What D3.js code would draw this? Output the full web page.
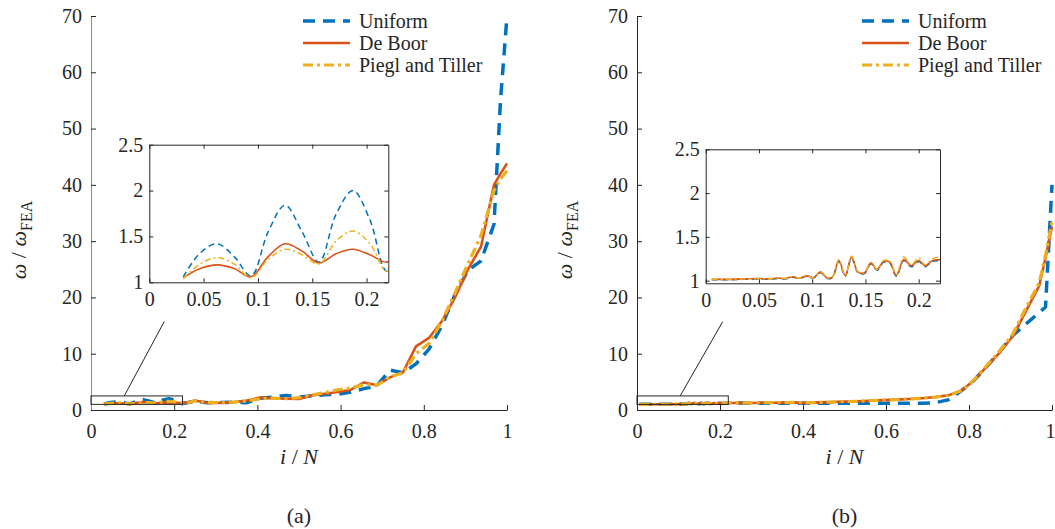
<!DOCTYPE html>
<html>
<head>
<meta charset="utf-8">
<script src="https://cdn.jsdelivr.net/npm/d3@7"></script>
<style>
  body { margin: 0; background: #ffffff; }
  text { font-family: "Liberation Serif", "Times New Roman", serif; fill: #262626; }
</style>
</head>
<body>
<svg id="fig" width="1055" height="529"></svg>
<script>
// ---- series definitions ----
const seriesNames = ["Uniform", "De Boor", "Piegl and Tiller"];
const seriesColors = ["#0072BD", "#D95319", "#EDB120"];

// ---- panel (a): normalised frequency ratio vs mode index ----
const aX = [0.03125, 0.046875, 0.0625, 0.078125, 0.09375, 0.109375, 0.125, 0.140625,
  0.15625, 0.171875, 0.1875, 0.203125, 0.21875, 0.234375, 0.25, 0.28125, 0.3125,
  0.34375, 0.375, 0.40625, 0.4375, 0.46875, 0.5, 0.53125, 0.5625, 0.59375, 0.625,
  0.65625, 0.6875, 0.71875, 0.75, 0.78125, 0.8125, 0.84375, 0.875, 0.90625, 0.9375,
  0.96875, 0.984375, 1.0];
const aUniform = [1.06, 1.32, 1.42, 1.28, 1.07, 1.55, 1.84, 1.55, 1.22, 1.74, 2.00, 1.68,
  1.12, 1.35, 1.5, 1.3, 1.35, 1.4, 1.3, 2.1, 2.3, 2.6, 2.3, 2.5, 2.7, 2.8, 3.2, 3.8,
  4.3, 7.1, 6.6, 8.2, 10.8, 15.0, 20.5, 24.8, 26.5, 33.0, 55.0, 70.0];
const aDeBoor = [1.05, 1.15, 1.19, 1.15, 1.06, 1.28, 1.42, 1.34, 1.21, 1.31, 1.36, 1.30,
  1.22, 1.4, 1.7, 1.25, 1.3, 1.4, 1.7, 2.2, 2.1, 2.0, 1.95, 2.6, 2.9, 3.2, 3.6, 4.9,
  4.4, 5.8, 6.7, 11.3, 12.8, 15.8, 20.0, 25.0, 29.0, 40.0, 42.0, 43.8];
const aPiegl = [1.04, 1.20, 1.27, 1.20, 1.05, 1.25, 1.36, 1.30, 1.20, 1.45, 1.56, 1.42,
  1.12, 1.3, 1.6, 1.3, 1.3, 1.4, 1.6, 2.0, 2.1, 2.0, 2.2, 2.7, 3.1, 3.6, 3.9, 4.5,
  4.4, 5.9, 6.6, 10.0, 11.8, 15.8, 20.8, 26.0, 31.0, 39.0, 41.0, 42.5];

// ---- panel (b) ----
const bX = [0.0057, 0.02, 0.035, 0.05, 0.06, 0.067, 0.075, 0.082, 0.088, 0.095, 0.101,
  0.108, 0.114, 0.119, 0.125, 0.131, 0.137, 0.143, 0.149, 0.155, 0.161, 0.167, 0.173,
  0.179, 0.186, 0.193, 0.2, 0.206, 0.213, 0.22, 0.25, 0.28125, 0.3125, 0.34375, 0.375,
  0.40625, 0.4375, 0.46875, 0.5, 0.53125, 0.5625, 0.59375, 0.625, 0.65625, 0.6875,
  0.71875, 0.75, 0.78125, 0.8125, 0.84375, 0.875, 0.90625, 0.9375, 0.96875, 0.984375, 1.0];
const bUniform = [1.01, 1.01, 1.015, 1.02, 1.015, 1.025, 1.02, 1.04, 1.025, 1.05, 1.03,
  1.09, 1.025, 1.035, 1.22, 1.05, 1.26, 1.09, 1.08, 1.19, 1.12, 1.21, 1.20, 1.05, 1.23,
  1.16, 1.22, 1.16, 1.22, 1.23, 1.25, 1.2, 1.2, 1.2, 1.2, 1.2, 1.2, 1.2, 1.2, 1.2, 1.2,
  1.2, 1.2, 1.2, 1.2, 1.3, 1.8, 3.4, 5.3, 7.8, 10.5, 13.3, 15.3, 17.3, 18.3, 40.0];
const bDeBoor = [1.015, 1.015, 1.02, 1.025, 1.02, 1.03, 1.025, 1.045, 1.03, 1.055, 1.035,
  1.10, 1.03, 1.04, 1.23, 1.06, 1.27, 1.10, 1.09, 1.20, 1.13, 1.22, 1.21, 1.06, 1.24,
  1.17, 1.23, 1.17, 1.23, 1.24, 1.25, 1.25, 1.3, 1.3, 1.35, 1.25, 1.35, 1.4, 1.5, 1.55,
  1.65, 1.75, 1.85, 1.95, 2.1, 2.3, 2.6, 3.4, 5.3, 7.8, 10.3, 13.2, 17.6, 22.0, 27.0, 32.6];
const bPiegl = [1.015, 1.015, 1.02, 1.025, 1.02, 1.03, 1.025, 1.045, 1.03, 1.06, 1.035,
  1.10, 1.03, 1.045, 1.24, 1.06, 1.28, 1.10, 1.09, 1.21, 1.13, 1.23, 1.22, 1.07, 1.27,
  1.18, 1.26, 1.18, 1.25, 1.27, 1.25, 1.25, 1.3, 1.3, 1.35, 1.25, 1.35, 1.4, 1.5, 1.55,
  1.65, 1.75, 1.85, 1.95, 2.1, 2.3, 2.6, 3.4, 5.4, 8.0, 10.6, 13.6, 18.2, 22.5, 27.5, 33.5];

// ---- ticks and labels ----
const mainXTicks = [0, 0.2, 0.4, 0.6, 0.8, 1];
const mainYTicks = [0, 10, 20, 30, 40, 50, 60, 70];
const insetXTicks = [0, 0.05, 0.1, 0.15, 0.2];
const insetYTicks = [1, 1.5, 2, 2.5];
const panelLabels = ["(a)", "(b)"];

// ---- layout of both panels ----
const panels = [
  { x: aX, ys: [aUniform, aDeBoor, aPiegl], label: panelLabels[0],
    left: 91, right: 507, top: 16, bottom: 410,
    inset: { left: 149.3, right: 388.3, top: 144.7, bottom: 282.3, yMin: 1 },
    zoomFrom: [0.08, 2.5], zoomTo: [0.176, 15.7],
    legend: { x0: 303, x1: 350, tx: 359, y: 21 } },
  { x: bX, ys: [bUniform, bDeBoor, bPiegl], label: panelLabels[1],
    left: 637, right: 1052, top: 16, bottom: 410,
    inset: { left: 705.7, right: 940, top: 149.3, bottom: 283.3, yMin: 0.97 },
    zoomFrom: [0.104, 2.5], zoomTo: [0.2065, 15.7],
    legend: { x0: 862, x1: 909, tx: 918, y: 21 } }
];

const axisColor = "#262626";
const fontSize = 20;
const mainStyles = [
  { width: 3.5, dash: "12,8" },
  { width: 2.6, dash: null },
  { width: 3.2, dash: "10,4,3,4" }
];
const insetStyles = [
  { width: 1.5, dash: "6,4" },
  { width: 1.6, dash: null },
  { width: 1.5, dash: "6,3,2,3" }
];

const svg = d3.select("#fig");

function styleAxis(g, showLabels) {
  g.selectAll("path.domain").attr("stroke", axisColor).attr("stroke-width", 1);
  g.selectAll(".tick line").attr("stroke", axisColor).attr("stroke-width", 1);
  g.selectAll(".tick text")
    .attr("font-family", "Liberation Serif, Times New Roman, serif")
    .attr("font-size", fontSize)
    .attr("fill", axisColor)
    .style("display", showLabels ? null : "none");
}

panels.forEach((p, pi) => {
  const g = svg.append("g");
  const x = d3.scaleLinear().domain([0, 1]).range([p.left, p.right]);
  const y = d3.scaleLinear().domain([0, 70]).range([p.bottom, p.top]);

  // main axes (ticks point inward)
  const gx = g.append("g").attr("transform", `translate(0,${p.bottom})`)
    .call(d3.axisBottom(x).tickValues(mainXTicks).tickFormat(d => String(d))
      .tickSizeInner(-5).tickSizeOuter(0).tickPadding(14));
  styleAxis(gx, true);
  // keep the right-most label inside the page
  if (pi === 1) gx.selectAll(".tick text").filter(d => d === 1).attr("dx", -2);
  const gy = g.append("g").attr("transform", `translate(${p.left},0)`)
    .call(d3.axisLeft(y).tickValues(mainYTicks).tickFormat(d => String(d))
      .tickSizeInner(-5).tickSizeOuter(0).tickPadding(9));
  styleAxis(gy, true);
  if (pi === 0) gy.select("path.domain").attr("stroke", "#8a8a8a");

  // main curves
  const data = p.ys.map(vals => p.x.map((xv, i) => [xv, vals[i]]));
  const line = d3.line().x(d => x(d[0])).y(d => y(d[1]));
  data.forEach((pts, si) => {
    g.append("path").datum(pts)
      .attr("d", line)
      .attr("fill", "none")
      .attr("stroke", seriesColors[si])
      .attr("stroke-width", mainStyles[si].width)
      .attr("stroke-dasharray", mainStyles[si].dash)
      .attr("stroke-linejoin", "round");
  });

  // zoom window and its leader line
  const ins = p.inset;
  g.append("rect")
    .attr("x", x(insetXTicks[0])).attr("y", y(insetYTicks[3]))
    .attr("width", x(0.22) - x(0)).attr("height", y(1) - y(2.5))
    .attr("fill", "none").attr("stroke", axisColor).attr("stroke-width", 1);
  g.append("line")
    .attr("x1", x(p.zoomFrom[0])).attr("y1", y(p.zoomFrom[1]))
    .attr("x2", x(p.zoomTo[0])).attr("y2", y(p.zoomTo[1]))
    .attr("stroke", axisColor).attr("stroke-width", 1);

  // inset
  const ix = d3.scaleLinear().domain([0, 0.22]).range([ins.left, ins.right]);
  const iy = d3.scaleLinear().domain([ins.yMin, 2.5]).range([ins.bottom, ins.top]);
  const clipId = "clip" + pi;
  g.append("clipPath").attr("id", clipId).append("rect")
    .attr("x", ins.left).attr("y", ins.top)
    .attr("width", ins.right - ins.left).attr("height", ins.bottom - ins.top);
  g.append("rect")
    .attr("x", ins.left).attr("y", ins.top)
    .attr("width", ins.right - ins.left).attr("height", ins.bottom - ins.top)
    .attr("fill", "#ffffff");
  const iline = d3.line().x(d => ix(d[0])).y(d => iy(d[1])).curve(d3.curveCatmullRom.alpha(0.5));
  const ig = g.append("g").attr("clip-path", `url(#${clipId})`);
  data.forEach((pts, si) => {
    ig.append("path").datum(pts.filter(d => d[0] <= 0.26))
      .attr("d", iline)
      .attr("fill", "none")
      .attr("stroke", seriesColors[si])
      .attr("stroke-width", insetStyles[si].width)
      .attr("stroke-dasharray", insetStyles[si].dash);
  });
  const ib = g.append("g").attr("transform", `translate(0,${ins.bottom})`)
    .call(d3.axisBottom(ix).tickValues(insetXTicks).tickFormat(d => String(d))
      .tickSizeInner(-4).tickSizeOuter(0).tickPadding(10));
  styleAxis(ib, true);
  const it = g.append("g").attr("transform", `translate(0,${ins.top})`)
    .call(d3.axisTop(ix).tickValues(insetXTicks).tickSizeInner(-4).tickSizeOuter(0));
  styleAxis(it, false);
  const il = g.append("g").attr("transform", `translate(${ins.left},0)`)
    .call(d3.axisLeft(iy).tickValues(insetYTicks).tickFormat(d => String(d))
      .tickSizeInner(-4).tickSizeOuter(0).tickPadding(6));
  styleAxis(il, true);
  const ir = g.append("g").attr("transform", `translate(${ins.right},0)`)
    .call(d3.axisRight(iy).tickValues(insetYTicks).tickSizeInner(-4).tickSizeOuter(0));
  styleAxis(ir, false);

  // legend
  const lg = p.legend;
  seriesNames.forEach((name, si) => {
    const ly = lg.y + si * 22;
    g.append("line")
      .attr("x1", lg.x0).attr("x2", lg.x1).attr("y1", ly).attr("y2", ly)
      .attr("stroke", seriesColors[si])
      .attr("stroke-width", mainStyles[si].width)
      .attr("stroke-dasharray", mainStyles[si].dash);
    g.append("text")
      .attr("x", lg.tx).attr("y", ly).attr("dy", "0.33em")
      .attr("font-size", fontSize).attr("fill", "#000")
      .text(name);
  });

  // axis titles
  const cx = (p.left + p.right) / 2;
  const xt = g.append("text").attr("x", cx).attr("y", 464)
    .attr("text-anchor", "middle").attr("font-size", 22);
  xt.append("tspan").attr("font-style", "italic").text("i");
  xt.append("tspan").text(" / ");
  xt.append("tspan").attr("font-style", "italic").text("N");

  const yt = g.append("text")
    .attr("transform", `translate(${p.left - 65},240) rotate(-90)`)
    .attr("text-anchor", "middle").attr("font-size", 22);
  yt.append("tspan").attr("font-style", "italic").text("ω");
  yt.append("tspan").text(" / ");
  yt.append("tspan").attr("font-style", "italic").text("ω");
  yt.append("tspan").attr("font-size", 16).attr("dy", 6).text("FEA");

  g.append("text").attr("x", cx).attr("y", 523)
    .attr("text-anchor", "middle").attr("font-size", 22)
    .text(p.label);
});
</script>
</body>
</html>
